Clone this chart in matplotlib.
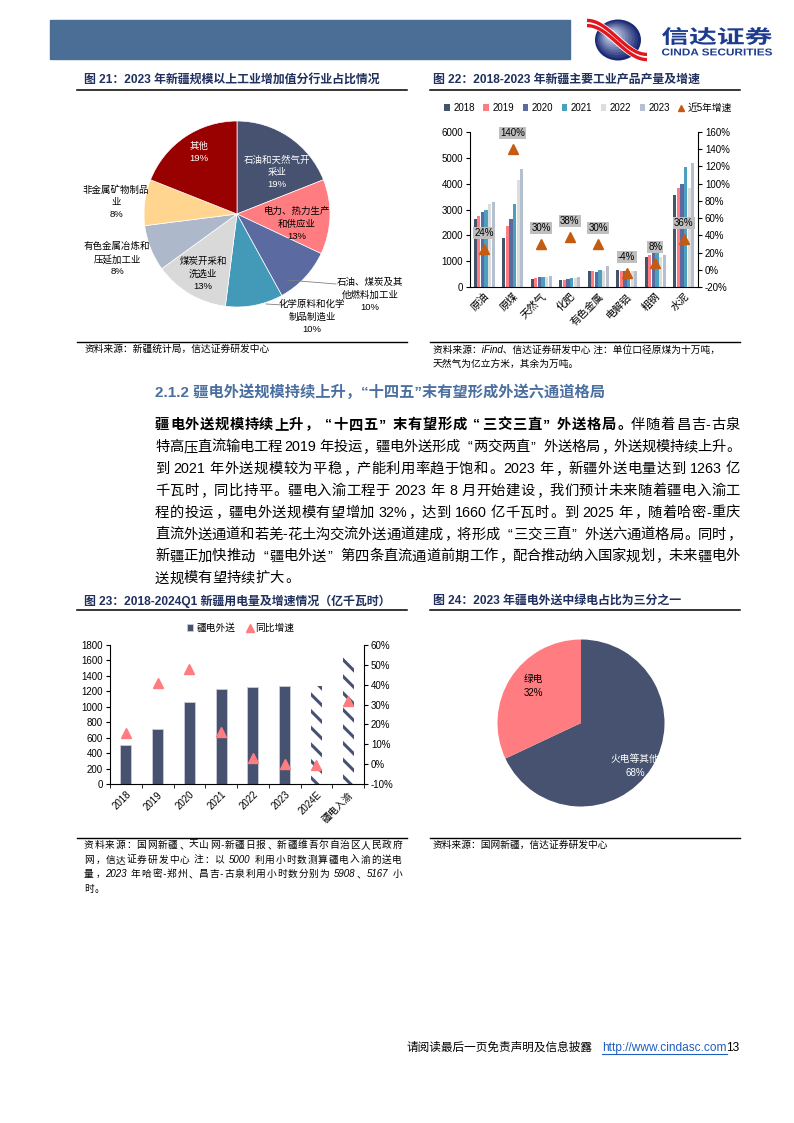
import re
import numpy as np
import matplotlib
matplotlib.use("Agg")
import matplotlib.pyplot as plt
import matplotlib.patches as mpatches
from matplotlib.lines import Line2D
from matplotlib.textpath import TextPath
from matplotlib.font_manager import FontProperties
from matplotlib.transforms import Affine2D, IdentityTransform

plt.rcParams['font.family'] = ['Liberation Sans', 'Noto Sans CJK SC', 'DejaVu Sans']
plt.rcParams['axes.unicode_minus'] = False
plt.rcParams['hatch.linewidth'] = 2.2

W, H = 794, 1123

# ---------------- data ----------------
# fig 21
ind_names = ['石油和天然气开\n采业', '电力、热力生产\n和供应业', '石油、煤炭及其\n他燃料加工业',
             '化学原料和化学\n制品制造业', '煤炭开采和\n洗选业', '有色金属冶炼和\n压延加工业',
             '非金属矿物制品\n业', '其他']
ind_share = [19, 13, 10, 10, 13, 8, 8, 19]
ind_colors = ['#465270', '#FF7C80', '#5B6AA0', '#4299B8', '#D9D9D9', '#ADB9CA', '#FFD58F', '#990000']

# fig 22
prod_cats = ['原油', '原煤', '天然气', '化肥', '有色金属', '电解铝', '粗钢', '水泥']
prod_years = ['2018', '2019', '2020', '2021', '2022', '2023']
prod_2018 = [2650, 1900, 320, 270, 630, 640, 1150, 3550]
prod_2019 = [2750, 2380, 330, 285, 610, 610, 1220, 3830]
prod_2020 = [2920, 2650, 370, 305, 600, 610, 1300, 3970]
prod_2021 = [3000, 3200, 380, 350, 640, 630, 1300, 4640]
prod_2022 = [3210, 4130, 400, 365, 620, 610, 1150, 3830]
prod_2023 = [3280, 4560, 415, 370, 820, 615, 1240, 4800]
prod_growth = [24, 140, 30, 38, 30, -4, 8, 36]
prod_colors = ['#44546A', '#FF7C80', '#5B6AA0', '#4BA0C0', '#DDDDDD', '#B4BFD0']

# fig 23
send_cats = ['2018', '2019', '2020', '2021', '2022', '2023', '2024E', '疆电入渝']
send_vals = [505, 712, 1058, 1226, 1262, 1263, 1263, 1660]
send_growth = [15.5, 41, 48, 16, 3, 0.3, -0.5, 32]

# fig 24
green_names = ['火电等其他', '绿电']
green_share = [68, 32]

body_lines = [
    [('疆电外送规模持续上升，“十四五”末有望形成“三交三直”外送格局。', 'bold'), ('伴随着昌吉-古泉', 'normal')],
    [('特高压直流输电工程 2019 年投运，疆电外送形成“两交两直”外送格局，外送规模持续上升。', 'normal')],
    [('到 2021 年外送规模较为平稳，产能利用率趋于饱和。2023 年，新疆外送电量达到 1263 亿', 'normal')],
    [('千瓦时，同比持平。疆电入渝工程于 2023 年 8 月开始建设，我们预计未来随着疆电入渝工', 'normal')],
    [('程的投运，疆电外送规模有望增加 32%，达到 1660 亿千瓦时。到 2025 年，随着哈密-重庆', 'normal')],
    [('直流外送通道和若羌-花土沟交流外送通道建成，将形成“三交三直”外送六通道格局。同时，', 'normal')],
    [('新疆正加快推动“疆电外送”第四条直流通道前期工作，配合推动纳入国家规划，未来疆电外', 'normal')],
    [('送规模有望持续扩大。', 'normal')],
]
src23_lines = ['资料来源：国网新疆、天山网-新疆日报、新疆维吾尔自治区人民政府',
               '网，信达证券研发中心 注：以 5000 利用小时数测算疆电入渝的送电',
               '量，2023 年哈密-郑州、昌吉-古泉利用小时数分别为 5908、5167 小',
               '时。']

TITLE_C = '#1F2F5E'

fig = plt.figure(figsize=(W / 100, H / 100), dpi=100)
renderer = fig.canvas.get_renderer()


def fx(x):
    return x / W


def fy(y):
    return 1 - y / H


def box(x0, y0, x1, y1):
    return [x0 / W, 1 - y1 / H, (x1 - x0) / W, (y1 - y0) / H]


def txt(x, y, s, **kw):
    kw.setdefault('va', 'center')
    return fig.text(fx(x), fy(y), s, **kw)


def hline(x0, x1, y, lw=1.1, color='black'):
    fig.add_artist(Line2D([fx(x0), fx(x1)], [fy(y), fy(y)], lw=lw, color=color))


def text_line(y, segs, x0, x1, size, justify=True, style='normal', color='black'):
    em = size * 100 / 72
    items = []
    for s, w in segs:
        for tok in re.findall(r'[A-Za-z0-9%.\-]+|\s|.', s):
            items.append((tok, w))
    arts, widths = [], []
    for tok, w in items:
        if tok.isspace():
            arts.append(None)
            widths.append(em * 0.25)
            continue
        t = fig.text(0, fy(y), tok, fontsize=size, fontweight=w, style=style, va='center', color=color)
        arts.append(t)
        if tok.isascii():
            widths.append(t.get_window_extent(renderer).width)
        else:
            widths.append(em)
    gap = 0
    if justify and len(items) > 1:
        gap = ((x1 - x0) - sum(widths)) / (len(items) - 1)
    x = x0
    for a, wd in zip(arts, widths):
        if a is not None:
            s = a.get_text()
            if s.isascii():
                a.set_x(fx(x))
            elif s in '，。、：；！？”）':
                a.set_x(fx(x + em * 0.08))
            elif s in '“（':
                a.set_ha('right')
                a.set_x(fx(x + em * 0.92))
            else:
                a.set_ha('center')
                a.set_x(fx(x + wd / 2))
        x += wd + gap


def stretched(s, x0, x1, ytop, ybot, fp, color):
    tp = TextPath((0, 0), s, size=20, prop=fp)
    ext = tp.get_extents()
    tr = (Affine2D().translate(-ext.x0, -ext.y0)
          .scale((x1 - x0) / ext.width, (ybot - ytop) / ext.height)
          .translate(x0, H - ybot))
    fig.add_artist(mpatches.PathPatch(tr.transform_path(tp), color=color, lw=0,
                                      transform=IdentityTransform()))


# ---------------- header ----------------
fig.add_artist(mpatches.Rectangle((fx(50), fy(58.5)), (570 - 50) / W, 38 / H,
                                  color='#4B6E96', transform=fig.transFigure))
# logo ball with a soft gradient
for i, c in enumerate(np.linspace(0, 1, 9)):
    col = np.array([0.10, 0.16, 0.45]) * (1 - c) + np.array([0.78, 0.82, 0.92]) * c
    k = 1 - i * 0.1
    fig.add_artist(mpatches.Ellipse((618 - 8 * (1 - k), H - 40 + 6 * (1 - k)), 46 * k, 41 * k,
                                    color=col, lw=0, transform=IdentityTransform()))
t = np.linspace(0, 1, 60)
sx = 587 + 60 * t
sy = 23 + 34 * (1 - np.cos(np.pi * t)) / 2
fig.add_artist(Line2D(sx, H - sy, lw=6.5, color='white', solid_capstyle='butt', transform=IdentityTransform()))
for off in (-2.6, 2.6):
    fig.add_artist(Line2D(sx, H - sy - off, lw=2.4, color='#E3161E', solid_capstyle='butt',
                          transform=IdentityTransform()))
stretched('信达证券', 662, 772, 27, 45, FontProperties(family='Noto Sans CJK SC', weight='bold'), '#1D3C8F')
stretched('CINDA SECURITIES', 662, 772, 48.5, 55.5, FontProperties(family='Liberation Sans', weight='bold'), '#1D3C8F')

# ---------------- titles ----------------
txt(84, 80, '图 21：2023 年新疆规模以上工业增加值分行业占比情况', fontsize=8.6, fontweight='bold', color=TITLE_C)
txt(433, 80, '图 22：2018-2023 年新疆主要工业产品产量及增速', fontsize=8.6, fontweight='bold', color=TITLE_C)
hline(77, 407, 89.5)
hline(430, 740, 89.5)
txt(84, 601, '图 23：2018-2024Q1 新疆用电量及增速情况（亿千瓦时）', fontsize=8.6, fontweight='bold', color=TITLE_C)
txt(433, 601, '图 24：2023 年疆电外送中绿电占比为三分之一', fontsize=8.6, fontweight='bold', color=TITLE_C)
hline(77, 407, 609.5)
hline(430, 740, 609.5)

# sources
hline(77, 407, 341.5, lw=1.0)
hline(430, 740, 341.5, lw=1.0)
txt(85, 349, '资料来源：新疆统计局，信达证券研发中心', fontsize=7, style='italic')
txt(433, 350, '资料来源：iFind、信达证券研发中心 注：单位口径原煤为十万吨，', fontsize=7, style='italic')
txt(433, 364, '天然气为亿立方米，其余为万吨。', fontsize=7, style='italic')
hline(77, 407, 837.5, lw=1.0)
hline(430, 740, 837.5, lw=1.0)
for i, s in enumerate(src23_lines):
    text_line(845 + 14.6 * i, [(s, 'normal')], 84, 402, 7, justify=(i < 3), style='italic')
txt(433, 845, '资料来源：国网新疆，信达证券研发中心', fontsize=7, style='italic')

# ---------------- section heading & body ----------------
txt(155, 392, '2.1.2 疆电外送规模持续上升，“十四五”末有望形成外送六通道格局',
    fontsize=11, fontweight='bold', color='#4A6FA0')
for i, segs in enumerate(body_lines):
    text_line(425 + 21.9 * i, segs, 155, 740, 10.3, justify=(i < len(body_lines) - 1))

# ---------------- fig 21 pie ----------------
cx, cy, r = 237, 214, 93
ax1 = fig.add_axes(box(cx - r, cy - r, cx + r, cy + r))
ax1.pie(ind_share, colors=ind_colors, startangle=90, counterclock=False, radius=1,
        wedgeprops=dict(edgecolor='white', linewidth=0.5))
ax1.set_xlim(-1, 1)
ax1.set_ylim(-1, 1)
ax1.set_aspect('equal')
ind_pos = [(277, 172), (297, 224), (370, 295), (312, 317), (203, 274), (117, 259), (116, 202), (199, 152)]
ind_txtc = ['white', 'black', 'black', 'black', 'black', 'black', 'black', 'white']
for name, v, (px, py), c in zip(ind_names, ind_share, ind_pos, ind_txtc):
    ax1.text((px - cx) / r, (cy - py) / r, f'{name}\n{v}%', ha='center', va='center',
             fontsize=6.8, color=c, linespacing=1.45, clip_on=False)
for (x0, y0), (x1, y1) in [((287, 280), (336, 284)), ((266, 304), (283, 305))]:
    ax1.plot([(x0 - cx) / r, (x1 - cx) / r], [(cy - y0) / r, (cy - y1) / r], color='#808080', lw=0.6, clip_on=False)

# ---------------- fig 22 bars ----------------
ax2 = fig.add_axes(box(470, 132, 698, 287))
x = np.arange(len(prod_cats))
series = [prod_2018, prod_2019, prod_2020, prod_2021, prod_2022, prod_2023]
handles = []
for i, (vals, c) in enumerate(zip(series, prod_colors)):
    b = ax2.bar(x + (i - 2.5) * 0.128, vals, width=0.112, color=c, zorder=2)
    handles.append(b)
ax2.set_xlim(-0.5, len(prod_cats) - 0.5)
ax2.set_ylim(0, 6000)
ax2.set_yticks(range(0, 6001, 1000))
ax2.set_xticks(x)
ax2.set_xticklabels(prod_cats, rotation=45, ha='right', rotation_mode='anchor', fontsize=7.5)
ax2.tick_params(axis='x', length=0, pad=3)
ax2.tick_params(axis='y', direction='out', length=3, width=0.8, labelsize=7, pad=2)
ax2.spines['top'].set_visible(False)
ax2.spines['right'].set_visible(False)
ax2b = ax2.twinx()
tri, = ax2b.plot(x, prod_growth, '^', color='#C55A11', ms=7, zorder=3, linestyle='none')
ax2b.set_ylim(-20, 160)
ax2b.set_yticks(range(-20, 161, 20))
ax2b.set_yticklabels([f'{v}%' for v in range(-20, 161, 20)])
ax2b.tick_params(axis='y', direction='out', length=3, width=0.8, labelsize=7, pad=2)
for s in ('top', 'left', 'bottom'):
    ax2b.spines[s].set_visible(False)
for xi, g in zip(x, prod_growth):
    ax2b.annotate(f'{g}%', (xi, g), xytext=(0, 11.5), textcoords='offset points', ha='center',
                  va='center', fontsize=7,
                  bbox=dict(boxstyle='square,pad=0.12', fc='#BFBFBF', ec='none'))
fig.legend(handles + [tri], prod_years + ['近5年增速'], loc='center', bbox_to_anchor=(fx(588), fy(108)),
           ncol=7, frameon=False, fontsize=7, handlelength=0.6, handleheight=0.6, markerscale=0.7,
           columnspacing=0.9, handletextpad=0.3, borderaxespad=0)

# ---------------- fig 23 bars ----------------
ax3 = fig.add_axes(box(110, 645, 364, 784))
x3 = np.arange(len(send_cats))
bars = ax3.bar(x3[:6], send_vals[:6], width=0.34, color='#465270', edgecolor='#C8CCD6', linewidth=0.6, zorder=2)
ax3.bar(x3[6:], send_vals[6:], width=0.34, color='white', edgecolor='#465270', hatch=r'\\', linewidth=0, zorder=2)
ax3.set_xlim(-0.5, len(send_cats) - 0.5)
ax3.set_ylim(0, 1800)
ax3.set_yticks(range(0, 1801, 200))
ax3.set_xticks(x3)
ax3.set_xticklabels(send_cats, rotation=45, ha='right', rotation_mode='anchor', fontsize=7)
ax3.set_xticks(np.arange(-0.5, len(send_cats), 1), minor=True)
ax3.tick_params(axis='x', which='major', length=0, pad=4)
ax3.tick_params(axis='x', which='minor', length=3, direction='out')
ax3.tick_params(axis='y', direction='out', length=3, width=0.8, labelsize=7, pad=2)
ax3.spines['top'].set_visible(False)
ax3.spines['right'].set_visible(False)
ax3b = ax3.twinx()
tri3, = ax3b.plot(x3, send_growth, '^', color='#FF7C80', ms=7.5, linestyle='none', zorder=3)
ax3b.set_ylim(-10, 60)
ax3b.set_yticks(range(-10, 61, 10))
ax3b.set_yticklabels([f'{v}%' for v in range(-10, 61, 10)])
ax3b.tick_params(axis='y', direction='out', length=3, width=0.8, labelsize=7, pad=2)
for s in ('top', 'left', 'bottom'):
    ax3b.spines[s].set_visible(False)
fig.legend([bars, tri3], ['疆电外送', '同比增速'], loc='center', bbox_to_anchor=(fx(241), fy(628)),
           ncol=2, frameon=False, fontsize=7, handlelength=0.6, handleheight=0.6, markerscale=0.7,
           columnspacing=1.2, handletextpad=0.3, borderaxespad=0)

# ---------------- fig 24 pie ----------------
cx4, cy4, r4 = 581, 723, 83.5
ax4 = fig.add_axes(box(cx4 - r4, cy4 - r4, cx4 + r4, cy4 + r4))
ax4.pie(green_share, colors=['#465270', '#FF7C80'], startangle=90, counterclock=False, radius=1)
ax4.set_xlim(-1, 1)
ax4.set_ylim(-1, 1)
ax4.set_aspect('equal')
for name, v, (px, py), c in zip(green_names, green_share, [(635, 766), (533, 686)], ['white', 'black']):
    ax4.text((px - cx4) / r4, (cy4 - py) / r4, f'{name}\n{v}%', ha='center', va='center',
             fontsize=7, color=c, linespacing=1.5, clip_on=False)

# ---------------- footer ----------------
txt(407, 1048, '请阅读最后一页免责声明及信息披露', fontsize=8.4)
lk = txt(602, 1048, 'http://www.cindasc.com', fontsize=8.6, color='#1F5FBF')
ext = lk.get_window_extent(renderer)
hline(602, 602 + ext.width, 1054, lw=0.8, color='#1F5FBF')
txt(602 + ext.width, 1048, '13', fontsize=8.6)

fig.savefig('out.png', dpi=100)
